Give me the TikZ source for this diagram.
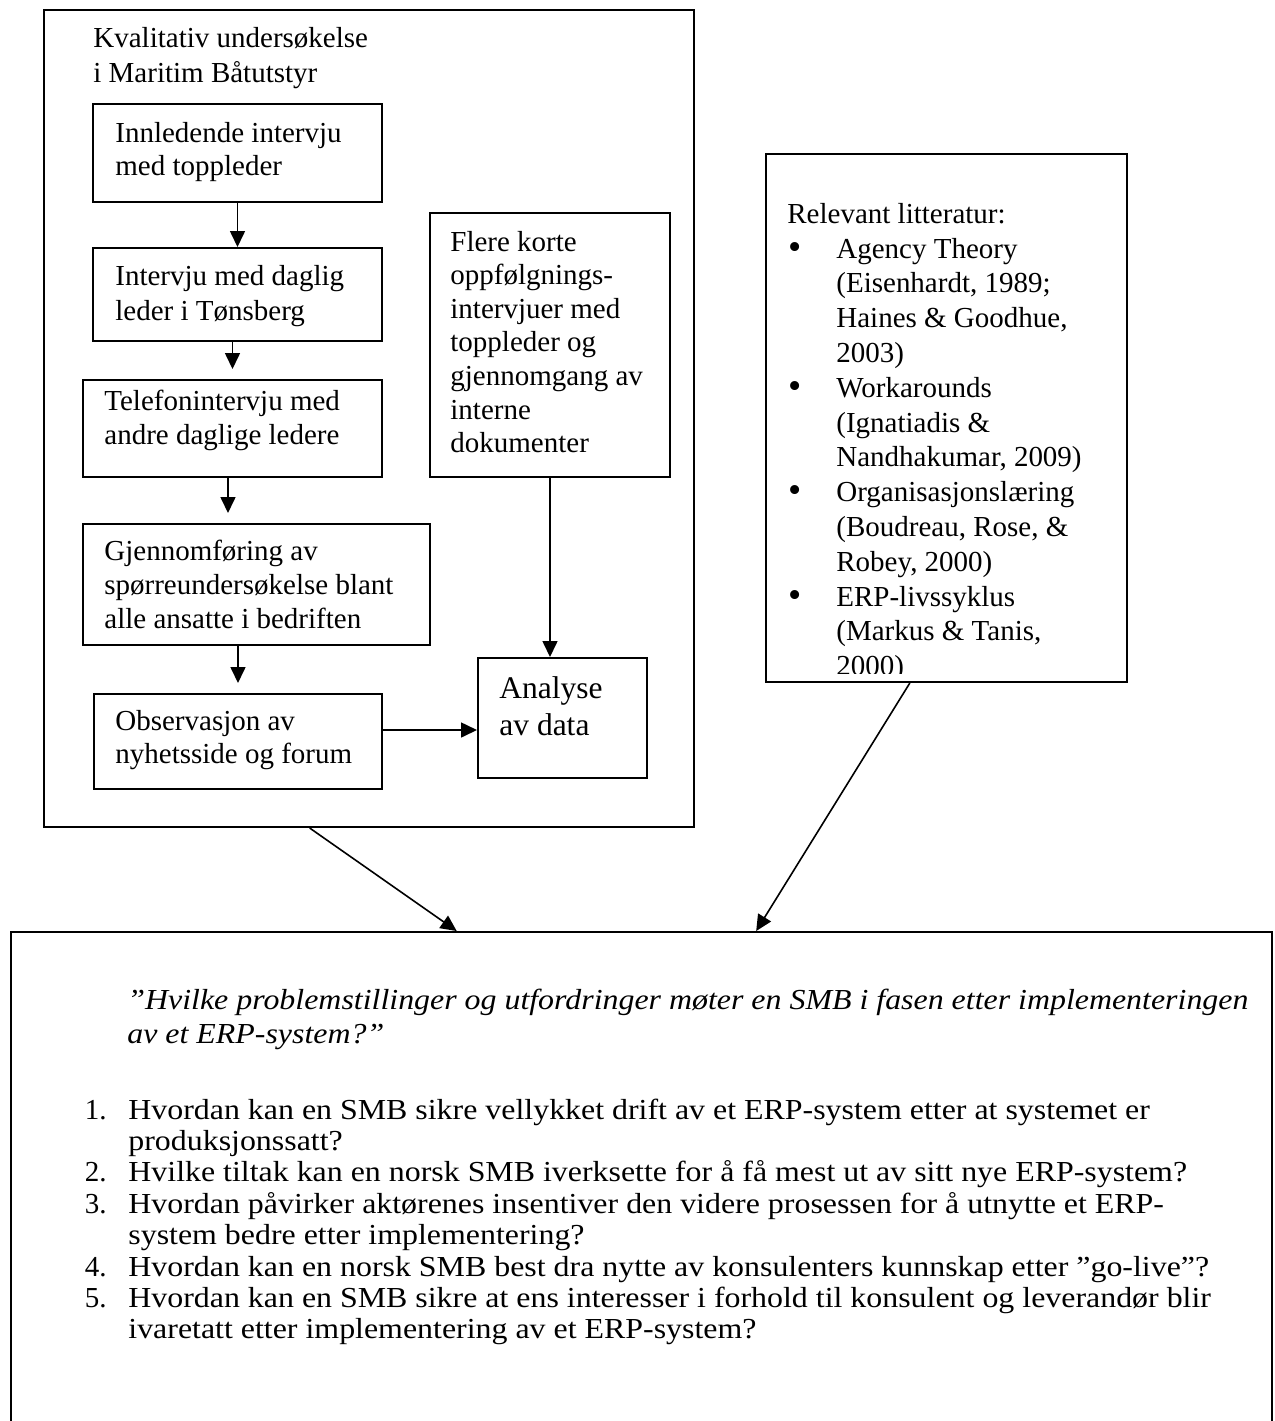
\documentclass[tikz,border=0pt]{standalone}
\usepackage{fontspec}
\usepackage{graphicx}
\setmainfont{Liberation Serif}
\usetikzlibrary{arrows.meta,calc,fit}
% bullet and list number set in a fixed-width box left of the item text
\newcommand\litbullet{\llap{\makebox[24pt][l]{\raisebox{-0.6pt}{\scalebox{1.3}{•}}}}}
\newcommand\itemno[1]{\llap{\makebox[21.8pt][l]{#1}}}
% the research-question text is set slightly wider than the rest
\newcommand\wideline[1]{\scalebox{1.1}[1]{#1}}
\begin{document}
\begin{tikzpicture}[x=0.5pt,y=-0.5pt,
  frame/.style={draw=black, line width=1pt, inner sep=0pt},
  % text blocks are placed by the baseline of their last line
  txt/.style={anchor=base west, inner sep=0pt, align=left,
              font=\fontsize{14.5}{17}\selectfont},
  arr/.style={line width=0.8pt, -{Triangle[length=8pt,width=7.5pt]}},
]
\useasboundingbox (0,0) rectangle (1275,1421);
\clip (0,0) rectangle (1275,1421);

% ---------- qualitative study ----------
\node[frame, fit={(44,10) (694,827)}] (study) {};
\node[txt, font=\fontsize{14.5}{17.5}\selectfont] (studytitle) at (93,82)
  {Kvalitativ undersøkelse\\i Maritim Båtutstyr};

\node[frame, fit={(93,104) (382,202)}] (intro) {};
\node[txt, font=\fontsize{14.5}{16.5}\selectfont] (introtext) at (115,175)
  {Innledende intervju\\med toppleder};

\node[frame, fit={(93,248) (382,341)}] (daily) {};
\node[txt, font=\fontsize{14.5}{17.5}\selectfont] (dailytext) at (115,320)
  {Intervju med daglig\\leder i Tønsberg};

\node[frame, fit={(83,380) (382,477)}] (phone) {};
\node[txt] (phonetext) at (104,444)
  {Telefonintervju med\\andre daglige ledere};

\node[frame, fit={(83,524) (430,645)}] (survey) {};
\node[txt] (surveytext) at (104,628)
  {Gjennomføring av\\spørreundersøkelse blant\\alle ansatte i bedriften};

\node[frame, fit={(94,694) (382,789)}] (observe) {};
\node[txt, font=\fontsize{14.5}{16.5}\selectfont] (observetext) at (115,763)
  {Observasjon av\\nyhetsside og forum};

\node[frame, fit={(430,213) (670,477)}] (followup) {};
\node[txt, font=\fontsize{14.5}{16.8}\selectfont] (followuptext) at (450,452.6)
  {Flere korte\\oppfølgnings-\\intervjuer med\\toppleder og\\gjennomgang av\\interne\\dokumenter};

\node[frame, fit={(478,658) (647,778)}] (analysis) {};
\node[txt, font=\fontsize{15.75}{18.5}\selectfont] (analysistext) at (499,735)
  {Analyse\\av data};

\draw[arr] (intro.south) -- (daily.north);
\draw[arr, shorten >=5pt] (daily.south -| phone.north) -- (phone.north);
\draw[arr, shorten >=5pt] ([xshift=-2.25pt]phone.south)
  -- ([xshift=-2.25pt]phone.south |- survey.north);
\draw[arr, shorten >=5pt] (survey.south -| observe.north) -- (observe.north);
\draw[arr] (followup.south) -- (followup.south |- analysis.north);
\draw[arr] ([yshift=5.75pt]observe.east) -- ([yshift=5.75pt]observe.east -| analysis.west);

% ---------- literature ----------
\node[frame, fit={(766,154) (1127,682)}] (literature) {};
\node[txt, font=\fontsize{14.5}{17.4}\selectfont] (littitle) at (787,223)
  {Relevant litteratur:};
\begin{scope}
  \clip (766,154) rectangle (1127,673);
  \node[txt, font=\fontsize{14.5}{17.4}\selectfont] (litlist) at (836,675.6)
    {\litbullet Agency Theory\\(Eisenhardt, 1989;\\Haines \& Goodhue,\\2003)\\
     \litbullet Workarounds\\(Ignatiadis \&\\Nandhakumar, 2009)\\
     \litbullet Organisasjonslæring\\(Boudreau, Rose, \&\\Robey, 2000)\\
     \litbullet ERP-livssyklus\\(Markus \& Tanis,\\2000)};
\end{scope}

% ---------- research question ----------
\node[frame, fit={(11,932) (1272,1470)}] (question) {};
\node[txt, font=\itshape\fontsize{14.5}{17}\selectfont] (questiontext) at (127,1043)
  {\wideline{”Hvilke problemstillinger og utfordringer møter en SMB i fasen etter implementeringen}\\
   \wideline{av et ERP-system?”}};
\node[txt, font=\fontsize{14.5}{15.7}\selectfont] (subquestions) at (128,1338.8)
  {\itemno{1.}\wideline{Hvordan kan en SMB sikre vellykket drift av et ERP-system etter at systemet er}\\
   \wideline{produksjonssatt?}\\
   \itemno{2.}\wideline{Hvilke tiltak kan en norsk SMB iverksette for å få mest ut av sitt nye ERP-system?}\\
   \itemno{3.}\wideline{Hvordan påvirker aktørenes insentiver den videre prosessen for å utnytte et ERP-}\\
   \wideline{system bedre etter implementering?}\\
   \itemno{4.}\wideline{Hvordan kan en norsk SMB best dra nytte av konsulenters kunnskap etter ”go-live”?}\\
   \itemno{5.}\wideline{Hvordan kan en SMB sikre at ens interesser i forhold til konsulent og leverandør blir}\\
   \wideline{ivaretatt etter implementering av et ERP-system?}};

\draw[arr] ($(study.south west)!0.409!(study.south east)$)
  -- ($(question.north west)!0.3537!(question.north east)$);
\draw[arr] ($(literature.south west)!0.399!(literature.south east)$)
  -- ($(question.north west)!0.5908!(question.north east)$);
\end{tikzpicture}
\end{document}
